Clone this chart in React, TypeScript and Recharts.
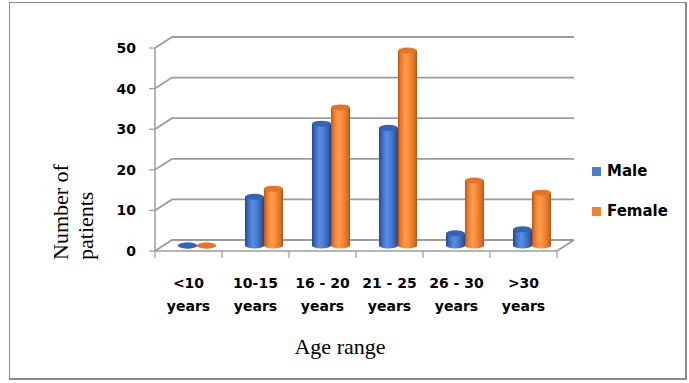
import React from 'react';
import { BarChart, Bar, XAxis, YAxis, CartesianGrid, Legend, Label } from 'recharts';

const categories = ['<10 years', '10-15 years', '16 - 20 years', '21 - 25 years', '26 - 30 years', '>30 years'];
const male = [0, 12, 30, 29, 3, 4];
const female = [0, 14, 34, 48, 16, 13];
const yTicks = [0, 10, 20, 30, 40, 50];

const data = categories.map((name, i) => ({ name, male: male[i], female: female[i] }));

// fake depth of the 3D walls
const DX = 17;
const DY = -11;
// bars sit halfway into the depth
const BX = 8;
const BY = -5.5;
const BAND = 402 / categories.length;

const GRID = '#9c9c9c';
const SANS = '"DejaVu Sans", sans-serif';
const SERIF = '"Liberation Serif", "Times New Roman", serif';

const palettes: Record<string, { stops: string[]; top: string }> = {
  male: { stops: ['#24478a', '#3a69bd', '#5b8de2', '#4a7fd6', '#2f5caa', '#234482'], top: '#3464b6' },
  female: { stops: ['#b3561a', '#ec7a2c', '#ff9c50', '#fb8a36', '#d96d22', '#ad5318'], top: '#e27528' },
};
const offsets = ['0%', '15%', '40%', '60%', '88%', '100%'];

const Cylinder = (props: any) => {
  const { x, y, width, height, index, series } = props;
  const pal = palettes[series];
  const id = `cyl-${series}-${index}`;
  const left = x + BX;
  const top = y + BY;
  const base = y + height + BY;
  const rx = width / 2;
  const ry = 3;
  return (
    <g>
      <defs>
        <linearGradient id={id} x1="0" y1="0" x2="1" y2="0">
          {pal.stops.map((c, i) => (
            <stop key={i} offset={offsets[i]} stopColor={c} />
          ))}
        </linearGradient>
      </defs>
      <ellipse cx={left + rx} cy={base} rx={rx} ry={ry} fill={`url(#${id})`} />
      {height > 0 && <rect x={left} y={top} width={width} height={base - top} fill={`url(#${id})`} />}
      <ellipse cx={left + rx} cy={top} rx={rx} ry={ry} fill={pal.top} />
    </g>
  );
};

const GridLine = (props: any) => {
  const { x1, x2, y1, index } = props;
  const pts = `${x1},${y1} ${x1 + DX},${y1 + DY} ${x2 + DX},${y1 + DY}`;
  return (
    <g key={`g-${index}`}>
      <polyline points={pts} fill="none" stroke={GRID} strokeWidth={1.8} />
      {index === 0 && <line x1={x2} y1={y1} x2={x2 + DX} y2={y1 + DY} stroke={GRID} strokeWidth={1.8} />}
    </g>
  );
};

const XTick = (props: any) => {
  const { x, y, payload, index, visibleTicksCount } = props;
  const axisY = y - 7;
  const label: string = payload.value;
  const cut = label.lastIndexOf(' ');
  const l1 = label.slice(0, cut);
  const l2 = label.slice(cut + 1);
  return (
    <g>
      <line x1={x - BAND / 2} y1={axisY} x2={x - BAND / 2} y2={axisY + 7} stroke={GRID} strokeWidth={1.2} />
      {index === visibleTicksCount - 1 && (
        <line x1={x + BAND / 2} y1={axisY} x2={x + BAND / 2} y2={axisY + 7} stroke={GRID} strokeWidth={1.2} />
      )}
      <text x={x} y={axisY + 37} textAnchor="middle" fontFamily={SANS} fontWeight="bold" fontSize={14} fill="#000">
        {l1}
      </text>
      <text x={x} y={axisY + 60} textAnchor="middle" fontFamily={SANS} fontWeight="bold" fontSize={14} fill="#000">
        {l2}
      </text>
    </g>
  );
};

const YTitle = () => (
  <g fontFamily={SERIF} fontSize={22} fill="#000">
    <text x={68} y={260} transform="rotate(-90, 68, 260)" textAnchor="start">
      Number of
    </text>
    <text x={93} y={260} transform="rotate(-90, 93, 260)" textAnchor="start">
      patients
    </text>
  </g>
);

const XTitle = () => (
  <text x={340} y={354} textAnchor="middle" fontFamily={SERIF} fontSize={22} fill="#000">
    Age range
  </text>
);

const legendItems = [
  { label: 'Male', color: '#4a7bd0' },
  { label: 'Female', color: '#f5822f' },
];

const LegendBox = () => (
  <div style={{ fontFamily: SANS, fontWeight: 'bold', fontSize: 15, color: '#000' }}>
    {legendItems.map((it) => (
      <div key={it.label} style={{ display: 'flex', alignItems: 'center', height: 40 }}>
        <span style={{ display: 'inline-block', width: 9, height: 9, background: it.color, marginRight: 6 }} />
        {it.label}
      </div>
    ))}
  </div>
);

export default function App() {
  return (
    <div style={{ position: 'absolute', left: 0, top: 0, width: 689, height: 383, background: '#fff' }}>
      <div
        style={{
          position: 'absolute',
          left: 9,
          top: 2,
          width: 675,
          height: 375,
          borderLeft: '1px solid #8a8a8a',
          borderTop: '1px solid #8a8a8a',
          borderRight: '2px solid #8a8a8a',
          borderBottom: '2px solid #8a8a8a',
        }}
      />
      <BarChart
        width={689}
        height={383}
        data={data}
        margin={{ top: 48, right: 132, bottom: 72, left: 95 }}
        barSize={19}
        barGap={0}
        style={{ position: 'absolute', left: 0, top: 0 }}
      >
        <CartesianGrid vertical={false} horizontal={GridLine} />
        <XAxis
          dataKey="name"
          height={60}
          tickSize={7}
          tickMargin={0}
          tickLine={false}
          axisLine={{ stroke: GRID, strokeWidth: 1.5 }}
          tick={<XTick />}
          interval={0}
        >
          <Label content={XTitle} />
        </XAxis>
        <YAxis
          width={60}
          domain={[0, 50]}
          ticks={yTicks}
          tickSize={6}
          tickMargin={13}
          axisLine={{ stroke: GRID, strokeWidth: 1.5 }}
          tickLine={{ stroke: GRID, strokeWidth: 1.2 }}
          tick={{ fontFamily: SANS, fontWeight: 'bold', fontSize: 14, fill: '#000' }}
        >
          <Label content={YTitle} />
        </YAxis>
        <Legend
          layout="vertical"
          align="center"
          verticalAlign="middle"
          content={<LegendBox />}
          wrapperStyle={{ left: 592, top: 151, width: 100 }}
        />
        <Bar dataKey="male" name="Male" isAnimationActive={false} shape={(p: any) => <Cylinder {...p} series="male" />} />
        <Bar dataKey="female" name="Female" isAnimationActive={false} shape={(p: any) => <Cylinder {...p} series="female" />} />
      </BarChart>
    </div>
  );
}
